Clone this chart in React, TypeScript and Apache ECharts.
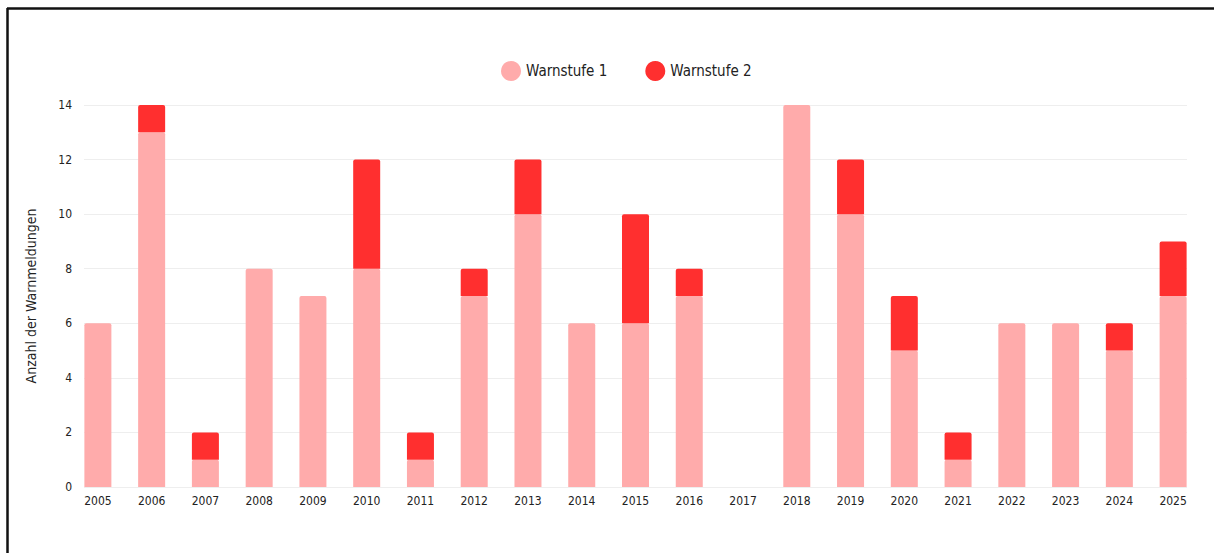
import React, { useEffect, useRef } from "react";
import * as echarts from "echarts";

const years = ["2005","2006","2007","2008","2009","2010","2011","2012","2013","2014","2015","2016","2017","2018","2019","2020","2021","2022","2023","2024","2025"];
const warnstufe1 = [6, 13, 1, 8, 7, 8, 1, 7, 10, 6, 6, 7, 0, 14, 10, 5, 1, 6, 6, 5, 7];
const warnstufe2 = [0, 1, 1, 0, 0, 4, 1, 1, 2, 0, 4, 1, 0, 0, 2, 2, 1, 0, 0, 1, 2];
const yTicks = { min: 0, max: 14, interval: 2 };

const FONT = "'DejaVu Sans Condensed', 'Liberation Sans Narrow', 'Roboto', sans-serif";

export default function App() {
  const ref = useRef<HTMLDivElement>(null);
  useEffect(() => {
    const chart = echarts.init(ref.current!, null, { renderer: "svg" });
    chart.setOption({
      animation: false,
      backgroundColor: "#ffffff",
      textStyle: { fontFamily: FONT },
      legend: {
        left: 496,
        top: 56,
        icon: "circle",
        itemWidth: 20,
        itemHeight: 20,
        itemGap: 38,
        textStyle: { fontFamily: FONT, fontSize: 15, color: "#222" },
        data: ["Warnstufe 1", "Warnstufe 2"],
      },
      grid: [
        { left: 71, right: 14, top: 105, bottom: 66 },
        { left: 84, right: 27, top: 105, bottom: 66 },
      ],
      xAxis: [
        {
          type: "category",
          gridIndex: 0,
          data: years,
          axisLine: { show: false },
          axisTick: { show: false },
          axisLabel: { color: "#222", fontSize: 12, fontFamily: FONT, margin: 8, interval: 0 },
        },
        {
          type: "category",
          gridIndex: 1,
          data: years,
          show: false,
        },
      ],
      yAxis: [
        {
          type: "value",
          gridIndex: 0,
          ...yTicks,
          show: false,
          splitLine: { show: false },
        },
        {
          type: "value",
          gridIndex: 1,
          ...yTicks,
          name: "Anzahl der Warnmeldungen",
          nameLocation: "middle",
          nameGap: 46,
          nameTextStyle: { fontFamily: FONT, fontSize: 14, color: "#222" },
          axisLine: { show: false },
          axisTick: { show: false },
          axisLabel: { color: "#222", fontSize: 12, fontFamily: FONT, margin: 12 },
          splitLine: { lineStyle: { color: "#eeeeee", width: 1 } },
        },
      ],
      series: [
        {
          name: "Warnstufe 1",
          type: "bar",
          stack: "total",
          xAxisIndex: 0,
          yAxisIndex: 0,
          data: warnstufe1,
          barWidth: 27,
          itemStyle: { color: "#ffabab", borderRadius: [2, 2, 0, 0] },
        },
        {
          name: "Warnstufe 2",
          type: "bar",
          stack: "total",
          xAxisIndex: 0,
          yAxisIndex: 0,
          data: warnstufe2,
          barWidth: 27,
          itemStyle: { color: "#ff2f2f", borderRadius: [2, 2, 0, 0] },
        },
      ],
      graphic: [
        { type: "line", shape: { x1: 7, y1: 8.5, x2: 1214, y2: 8.5 }, style: { stroke: "#111", lineWidth: 2.5 } },
        { type: "line", shape: { x1: 7.5, y1: 8, x2: 7.5, y2: 553 }, style: { stroke: "#111", lineWidth: 2.5 } },
      ],
    });
    return () => chart.dispose();
  }, []);
  return (
    <div style={{ position: "fixed", left: 0, top: 0, width: 1214, height: 553 }}>
      <div ref={ref} style={{ width: 1214, height: 553 }} />
    </div>
  );
}
